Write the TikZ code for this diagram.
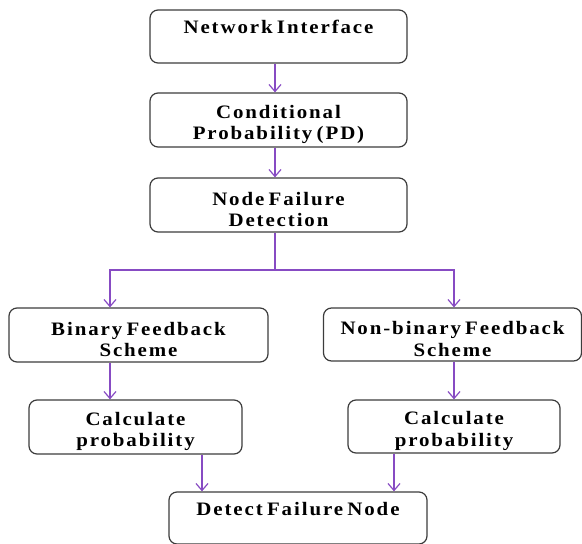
\documentclass[tikz,border=0pt]{standalone}
\usepackage{fontspec}
\setmainfont{Liberation Serif}[LetterSpace=10,FakeStretch=1.1,WordSpace=0.6]
\usetikzlibrary{arrows.meta}
\definecolor{linkpurple}{RGB}{135,75,195}
\definecolor{boxline}{RGB}{60,60,60}
\newcommand{\downrule}{\rule{0pt}{22pt}}
\tikzset{
  box/.style={draw=boxline, line width=1.2pt, rounded corners=8pt, align=center,
    inner sep=0pt, font=\fontsize{19}{21.5}\selectfont\bfseries, text=black},
  arr/.style={draw=linkpurple, line width=1.4pt, -{Straight Barb[length=7pt,width=12pt,line width=1.2pt]}},
  link/.style={draw=linkpurple, line width=1.4pt}
}
\begin{document}
\begin{tikzpicture}[x=1pt,y=-1pt]
\useasboundingbox (0,0) rectangle (582,544);
\node[box, minimum width=257pt, minimum height=53pt] (n1) at (278.5,36.5) {\downrule Network Interface\\\strut};
\node[box, minimum width=257pt, minimum height=54pt] (n2) at (278.5,120) {\downrule Conditional\\Probability (PD)};
\node[box, minimum width=257pt, minimum height=54pt] (n3) at (278.5,205) {\downrule Node Failure\\Detection};
\node[box, minimum width=259pt, minimum height=54pt] (n4) at (138.5,335) {\downrule Binary Feedback\\Scheme};
\node[box, minimum width=258pt, minimum height=53pt] (n5) at (452.5,334.5) {\downrule Non-binary Feedback\\Scheme};
\node[box, minimum width=213pt, minimum height=54pt] (n6) at (135.5,427) {\downrule Calculate\\probability};
\node[box, minimum width=212pt, minimum height=53pt] (n7) at (454,426.5) {\downrule Calculate\\probability};
\node[box, minimum width=258pt, minimum height=52pt] (n8) at (298,518) {\downrule Detect Failure Node\\\strut};
\coordinate (cx) at (275,0);
\coordinate (lx) at (110,0);
\coordinate (rx) at (454,0);
\coordinate (split) at (275,270);
\coordinate (dl) at (202,0);
\coordinate (dr) at (394,0);
\draw[arr] (n1.south -| cx) -- (n2.north -| cx);
\draw[arr] (n2.south -| cx) -- (n3.north -| cx);
\draw[link] (n3.south -| cx) -- (split);
\draw[arr] (split) -| (n4.north -| lx);
\draw[arr] (split) -| (n5.north -| rx);
\draw[arr] (n4.south -| lx) -- (n6.north -| lx);
\draw[arr] (n5.south -| rx) -- (n7.north -| rx);
\draw[arr] (n6.south -| dl) -- (n8.north -| dl);
\draw[arr] (n7.south -| dr) -- (n8.north -| dr);
\end{tikzpicture}
\end{document}
